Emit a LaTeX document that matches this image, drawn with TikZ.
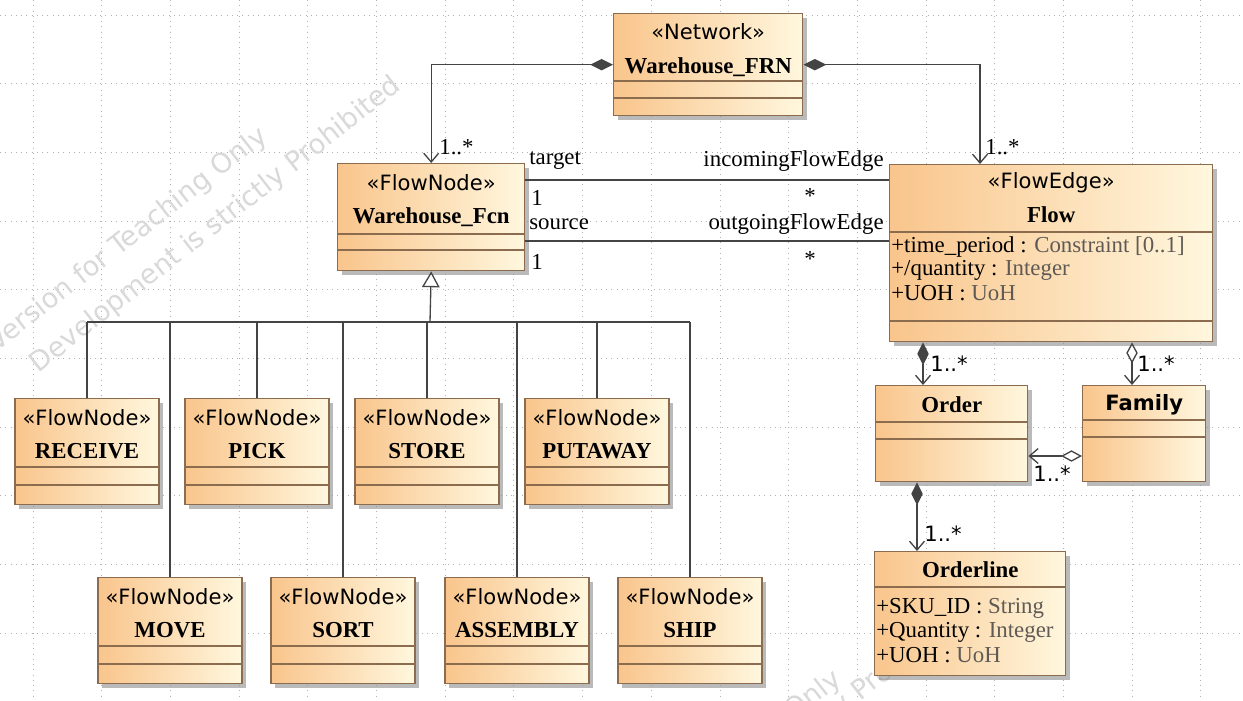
\documentclass[tikz,border=0pt]{standalone}
\usepackage{fontspec}
\setmainfont{Liberation Serif}
\setsansfont{DejaVu Sans}
\usepackage{tikz}
\usepackage{xcolor}
\definecolor{boxdark}{RGB}{249,197,140}
\definecolor{boxlight}{RGB}{255,247,222}
\definecolor{boxline}{RGB}{140,108,78}
\definecolor{linkgray}{RGB}{68,68,68}
\definecolor{typegray}{RGB}{95,90,85}
\tikzset{classbox/.style={draw=boxline, line width=.8pt, left color=boxdark, right color=boxlight,
   anchor=north west, inner sep=0pt, drop shadow={shadow xshift=2.4pt, shadow yshift=-2.4pt, fill=black!45, opacity=.6}},
 boxsize/.style 2 args={minimum width=#1*0.02cm, minimum height=#2*0.02cm},
 divider/.style={draw=boxline, line width=.8pt},
 stereo/.style={font=\sffamily\fontsize{12}{14}\selectfont, inner sep=0pt},
 clsname/.style={font=\bfseries\fontsize{13}{15}\selectfont, inner sep=0pt},
 attr/.style={font=\fontsize{13}{15}\selectfont, anchor=west, inner sep=0pt},
 rolelbl/.style={font=\fontsize{13}{15}\selectfont, inner sep=0pt},
 mult/.style={font=\sffamily\fontsize{12}{14}\selectfont, anchor=west, inner sep=0pt},
 link/.style={draw=linkgray, line width=.75pt},
 compose/.style={link, {Diamond[length=13pt,width=6.5pt,fill=linkgray]}-{Straight Barb[length=5pt,width=8.5pt]}},
 aggr/.style={link, {Diamond[open,length=12pt,width=6.5pt,fill=white]}-{Straight Barb[length=5pt,width=8.5pt]}},
 gen/.style={link, -{Triangle[open,length=9pt,width=10pt,fill=white]}},
 gridline/.style={draw=black!30, line width=.5pt, dash pattern=on .5pt off 2.5pt},
 watermark/.style={font=\sffamily\fontsize{15.5}{17}\selectfont, text=black!15, rotate=38, inner sep=0pt},
}
\usetikzlibrary{arrows.meta}
\usetikzlibrary{shadows}
\usetikzlibrary{calc}

\begin{document}
\begin{tikzpicture}[x=0.02cm, y=-0.02cm]
    \useasboundingbox (0,0) rectangle (1243,700);
    \fill[white] (0,0) rectangle (1243,700);
    \begin{scope}
        \clip (0,0) rectangle (1243,700);
        \foreach \gx in {0,...,17} {
            \draw[gridline] (33+\gx*68.7,0) -- (33+\gx*68.7,700);
        }
        \foreach \gy in {0,...,10} {
            \draw[gridline] (0,15+\gy*68.7) -- (1243,15+\gy*68.7);
        }
        \node[watermark] (wm1) at (128,240) {Version for Teaching Only};
        \node[watermark] (wm2) at (216,225) {Development is strictly Prohibited};
        \node[watermark] (wm3) at (702,783) {Version for Teaching Only};
        \node[watermark] (wm4) at (782,753) {Development is strictly Prohibited};
    \end{scope}

    % network and flow classes
    \node[classbox, boxsize={189}{102}] (frn) at (613,13) {};
    \node[stereo] (frn-st) at ($(frn.north)+(0,19)$) {«Network»};
    \node[clsname] (frn-nm) at ($(frn.north)+(0,54)$) {Warehouse\_FRN};
    \draw[divider] ($(frn.north west)+(0,68)$) -- ($(frn.north east)+(0,68)$);
    \draw[divider] ($(frn.north west)+(0,85)$) -- ($(frn.north east)+(0,85)$);

    \node[classbox, boxsize={187}{107}] (fcn) at (337,163) {};
    \node[stereo] (fcn-st) at ($(fcn.north)+(0,20)$) {«FlowNode»};
    \node[clsname] (fcn-nm) at ($(fcn.north)+(0,54)$) {Warehouse\_Fcn};
    \draw[divider] ($(fcn.north west)+(0,71)$) -- ($(fcn.north east)+(0,71)$);
    \draw[divider] ($(fcn.north west)+(0,87)$) -- ($(fcn.north east)+(0,87)$);

    \node[classbox, boxsize={323}{177}] (flow) at (889,164) {};
    \node[stereo] (flow-st) at ($(flow.north)+(0,19)$) {«FlowEdge»};
    \node[clsname] (flow-nm) at ($(flow.north)+(0,51)$) {Flow};
    \draw[divider] ($(flow.north west)+(0,68)$) -- ($(flow.north east)+(0,68)$);
    \node[attr] (flow-a1) at ($(flow.north west)+(2,83)$) {+time\_period : \textcolor{typegray}{Constraint [0..1]}};
    \node[attr] (flow-a2) at ($(flow.north west)+(2,106)$) {+/quantity : \textcolor{typegray}{Integer}};
    \node[attr] (flow-a3) at ($(flow.north west)+(2,129)$) {+UOH : \textcolor{typegray}{UoH}};
    \draw[divider] ($(flow.north west)+(0,157)$) -- ($(flow.north east)+(0,157)$);

    \node[classbox, boxsize={152}{96}] (order) at (875,385) {};
    \node[clsname] (order-nm) at ($(order.north)+(0,20)$) {Order};
    \draw[divider] ($(order.north west)+(0,37)$) -- ($(order.north east)+(0,37)$);
    \draw[divider] ($(order.north west)+(0,54)$) -- ($(order.north east)+(0,54)$);

    \node[classbox, boxsize={123}{96}] (family) at (1082,385) {};
    \node[clsname, font=\sffamily\bfseries\fontsize{12}{14}\selectfont] (family-nm) at ($(family.north)+(0,20)$) {Family};
    \draw[divider] ($(family.north west)+(0,35)$) -- ($(family.north east)+(0,35)$);
    \draw[divider] ($(family.north west)+(0,52)$) -- ($(family.north east)+(0,52)$);

    \node[classbox, boxsize={191}{124}] (orderline) at (874,551) {};
    \node[clsname] (orderline-nm) at ($(orderline.north)+(0,19)$) {Orderline};
    \draw[divider] ($(orderline.north west)+(0,36)$) -- ($(orderline.north east)+(0,36)$);
    \node[attr] (ol-a1) at ($(orderline.north west)+(2,57)$) {+SKU\_ID : \textcolor{typegray}{String}};
    \node[attr] (ol-a2) at ($(orderline.north west)+(2,81)$) {+Quantity : \textcolor{typegray}{Integer}};
    \node[attr] (ol-a3) at ($(orderline.north west)+(2,104)$) {+UOH : \textcolor{typegray}{UoH}};

    % flow node kinds
    \coordinate (bar) at (430,322);
    \foreach \nm/\lbl/\cx/\ty in {receive/RECEIVE/87/398, pick/PICK/257/398, store/STORE/427/398,
        putaway/PUTAWAY/597/398, move/MOVE/170/577, sort/SORT/343/577,
        assembly/ASSEMBLY/517/577, ship/SHIP/690/577} {
        \node[classbox, anchor=north, boxsize={144}{106}] (\nm) at (\cx,\ty) {};
        \node[stereo] (\nm-st) at ($(\nm.north)+(0,20)$) {«FlowNode»};
        \node[clsname] (\nm-nm) at ($(\nm.north)+(0,53)$) {\lbl};
        \draw[divider] ($(\nm.north west)+(0,69)$) -- ($(\nm.north east)+(0,69)$);
        \draw[divider] ($(\nm.north west)+(0,87)$) -- ($(\nm.north east)+(0,87)$);
        \draw[link] (\nm.north) -- (\nm.north |- bar);
    }
    \draw[link] (receive.north |- bar) -- (ship.north |- bar);
    \draw[gen] (bar) -- (fcn.south);

    % associations
    \draw[compose] (frn.west) -| (fcn.north);
    \draw[compose] (frn.east) -| (flow.north -| 980,0);
    \node[rolelbl, anchor=west] (frn-m1) at (439,147) {1..*};
    \node[rolelbl, anchor=west] (frn-m2) at (985,147) {1..*};

    \draw[link] (fcn.east |- 0,180) -- (flow.west |- 0,180);
    \draw[link] (fcn.east |- 0,241) -- (flow.west |- 0,241);
    \node[rolelbl, anchor=west] (tgt) at (529,161) {target};
    \node[rolelbl, anchor=east] (inc) at (884,161) {incomingFlowEdge};
    \node[rolelbl, anchor=west] (tgt-m) at (531,198) {1};
    \node[rolelbl] (inc-m) at (810,196) {*};
    \node[rolelbl, anchor=west] (src) at (529,224) {source};
    \node[rolelbl, anchor=east] (out) at (884,224) {outgoingFlowEdge};
    \node[rolelbl, anchor=west] (src-m) at (531,262) {1};
    \node[rolelbl] (out-m) at (810,259) {*};

    \draw[compose] (flow.south -| 923,0) -- (order.north -| 923,0);
    \draw[aggr] (flow.south -| 1132,0) -- (family.north -| 1132,0);
    \draw[aggr] (family.west |- 0,456) -- (order.east |- 0,456);
    \draw[compose] (order.south -| 917,0) -- (orderline.north -| 917,0);
    \node[mult] (ord-m) at (930,364) {1..*};
    \node[mult] (fam-m) at (1137,364) {1..*};
    \node[mult] (fo-m) at (1033,474) {1..*};
    \node[mult] (ol-m) at (924,534) {1..*};
\end{tikzpicture}
\end{document}
